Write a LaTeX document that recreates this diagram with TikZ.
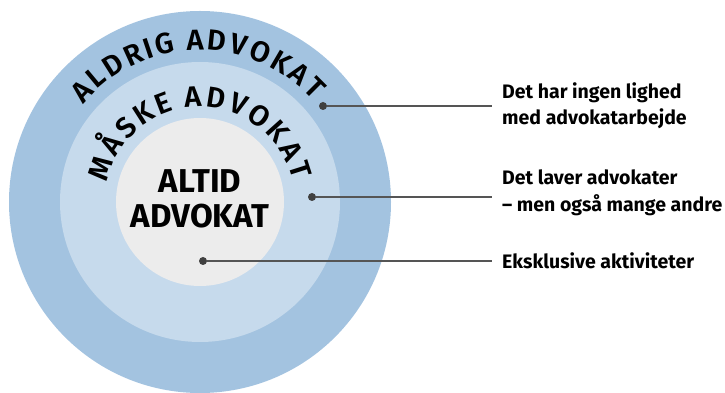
\documentclass[tikz,border=0pt]{standalone}
\usepackage{fontspec}
\setmainfont{Fira Sans}
\IfFontExistsTF{Fira Sans SemiBold}
    {\newfontfamily\ringface{Fira Sans SemiBold}}
    {\newfontfamily\ringface[FakeBold=0]{Fira Sans}\let\oldringface\ringface
     \renewcommand{\ringface}{\oldringface\bfseries}}
\usetikzlibrary{positioning,decorations.text}
\definecolor{ringout}{RGB}{163,195,224}
\definecolor{ringmid}{RGB}{198,218,236}
\definecolor{ringin}{RGB}{236,236,236}
\definecolor{dotgray}{RGB}{64,64,64}
\definecolor{linegray}{RGB}{85,85,85}
\newcommand{\ringfont}{\ringface\fontsize{29}{29}\selectfont}

\begin{document}
\begin{tikzpicture}[x=1pt, y=1pt,
            ring/.style={circle, draw=none, inner sep=0pt},
            pin/.style={circle, fill=dotgray, minimum size=8pt, inner sep=0pt},
            lab/.style={anchor=west, align=left, inner xsep=10pt, inner ysep=0pt,
                font=\bfseries\fontsize{19.5}{26.5}\selectfont},
            lead/.style={draw=linegray, line width=1.6pt}
        ]
        \useasboundingbox (0,0) rectangle (725,393);
        \coordinate (c) at (200,191);
        \node[ring, fill=ringout, minimum size=382pt] (outer) at (c) {};
        \node[ring, fill=ringmid, minimum size=280pt] (middle) at (c) {};
        \node[ring, fill=ringin, minimum size=168pt] (inner) at (c) {};
        % ring titles along the arcs
        \path[decorate, decoration={text effects along path, text={ALDRIG ADVOKAT},
                text effects/.cd, text along path, fit text to path,
                characters={font=\ringfont}}]
            ([shift={(140:152)}]c) arc[start angle=140, end angle=42, radius=152];
        \path[decorate, decoration={text effects along path, text={MÅSKE ADVOKAT},
                text effects/.cd, text along path, fit text to path,
                characters={font=\ringfont}}]
            ([shift={(168:95)}]c) arc[start angle=168, end angle=13, radius=95];
        \node[align=center, font=\bfseries\fontsize{33}{35}\selectfont] (core) at (200,194) {ALTID\\ADVOKAT};
        % pins and labels
        \node[pin] (p1) at (323,287) {};
        \node[pin] (p2) at (312,196) {};
        \node[pin] (p3) at (203,132) {};
        \node[lab] (l1) at (492,287) {Det har ingen lighed\\med advokatarbejde};
        \node[lab] (l2) at (492,200) {Det laver advokater\\– men også mange andre};
        \node[lab] (l3) at (492,132.5) {Eksklusive aktiviteter};
        \draw[lead] (p1) -- (p1 -| l1.west);
        \draw[lead] (p2) -- (p2 -| l2.west);
        \draw[lead] (p3) -- (p3 -| l3.west);
    \end{tikzpicture}
\end{document}
